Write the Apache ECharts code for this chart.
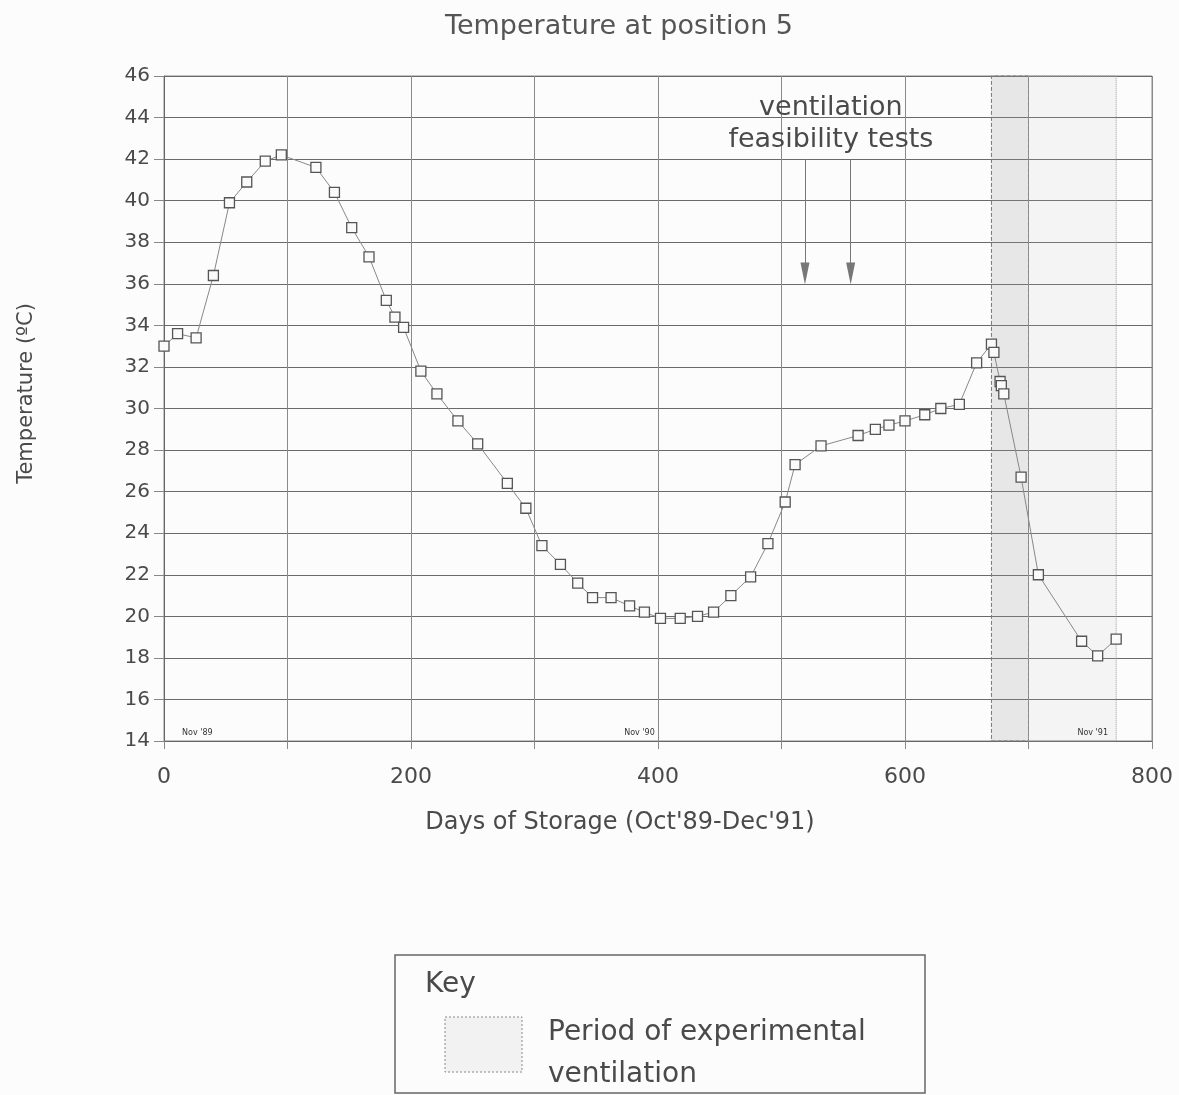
<!DOCTYPE html>
<html>
<head>
<meta charset="utf-8">
<script src="https://cdn.jsdelivr.net/npm/echarts@6/dist/echarts.min.js"></script>
<style>
html,body{margin:0;padding:0;background:#fcfcfc;}
#c{width:1179px;height:1095px;}
</style>
</head>
<body>
<div id="c"></div>
<script>
// ---- data ----
const days = [0, 11, 26, 40, 53, 67, 82, 95, 123, 138, 152, 166, 180, 187, 194, 208, 221, 238, 254, 278, 293, 306, 321, 335, 347, 362, 377, 389, 402, 418, 432, 445, 459, 475, 489, 503, 511, 532, 562, 576, 587, 600, 616, 629, 644, 658, 670, 672, 677, 678, 680, 694, 708, 743, 756, 771];
const temps = [33.0, 33.6, 33.4, 36.4, 39.9, 40.9, 41.9, 42.2, 41.6, 40.4, 38.7, 37.3, 35.2, 34.4, 33.9, 31.8, 30.7, 29.4, 28.3, 26.4, 25.2, 23.4, 22.5, 21.6, 20.9, 20.9, 20.5, 20.2, 19.9, 19.9, 20.0, 20.2, 21.0, 21.9, 23.5, 25.5, 27.3, 28.2, 28.7, 29.0, 29.2, 29.4, 29.7, 30.0, 30.2, 32.2, 33.1, 32.7, 31.3, 31.1, 30.7, 26.7, 22.0, 18.8, 18.1, 18.9];
const ventStart = 670, ventGrid = 700, ventEnd = 771;
const testDays = [519, 556];
const arrowFrom = 42, arrowTo = 36.5;
const testLabel = 'ventilation\nfeasibility tests';
const testLabelPos = [540, 43.7];
const novDays = [27, 385, 752];
const novLabels = ["Nov '89", "Nov '90", "Nov '91"];
const xTicks = [0, 200, 400, 600, 800];
const yMin = 14, yMax = 46, yStep = 2;

const chart = echarts.init(document.getElementById('c'));
const ink = '#4a4a4a';
const gridCol = '#8a8a8a';
const font = 'DejaVu Sans, Liberation Sans, sans-serif';

const lineData = days.map((d, i) => [d, temps[i]]);
const novData = novDays.map((d, i) => [d, 14.4, novLabels[i]]);

chart.setOption({
  backgroundColor: '#fcfcfc',
  animation: false,
  title: {
    text: 'Temperature at position 5',
    left: 614, top: 8, textAlign: 'center',
    textStyle: {color: '#555', fontSize: 27, fontWeight: 'normal', fontFamily: font}
  },
  grid: {left: 164, right: 27, top: 76, bottom: 354, show: true, borderColor: gridCol, borderWidth: 1},
  xAxis: {
    type: 'value', min: 0, max: 800, interval: 100,
    name: "Days of Storage (Oct'89-Dec'91)", nameLocation: 'middle', nameGap: 70,
    nameTextStyle: {color: ink, fontSize: 24, fontFamily: font, padding: [0, 76, 0, 0]},
    axisLine: {show: true, onZero: false, lineStyle: {color: '#666'}},
    axisTick: {show: true, length: 8, lineStyle: {color: '#888'}},
    axisLabel: {color: ink, fontSize: 22, fontFamily: font, margin: 25,
      formatter: v => xTicks.indexOf(v) >= 0 ? String(v) : ''},
    splitLine: {show: true, lineStyle: {color: gridCol, width: 1}}
  },
  yAxis: {
    type: 'value', min: yMin, max: yMax, interval: yStep,
    name: 'Temperature (ºC)', nameLocation: 'middle', nameGap: 127,
    nameTextStyle: {color: ink, fontSize: 21, fontFamily: font, padding: [0, 0, 0, 30]},
    axisLine: {show: true, lineStyle: {color: '#666'}},
    axisTick: {show: true, length: 10, lineStyle: {color: '#888'}},
    axisLabel: {color: ink, fontSize: 20, fontFamily: font, margin: 14},
    splitLine: {show: true, lineStyle: {color: '#6a6a6a', width: 1.2}}
  },
  series: [
    {
      type: 'line',
      data: lineData,
      symbol: 'rect', symbolSize: 10,
      itemStyle: {color: '#fafafa', borderColor: '#555', borderWidth: 1.3},
      lineStyle: {color: '#888', width: 1},
      z: 5,
      markArea: {
        silent: true,
        data: [
          [{xAxis: ventStart, itemStyle: {color: 'rgba(160,160,160,0.22)', borderColor: '#777', borderWidth: 1, borderType: 'dashed'}}, {xAxis: ventGrid}],
          [{xAxis: ventGrid, itemStyle: {color: 'rgba(190,190,190,0.13)', borderColor: '#999', borderWidth: 1, borderType: 'dotted'}}, {xAxis: ventEnd}]
        ]
      },
      markLine: {
        silent: true,
        symbol: ['none', 'triangle'], symbolSize: [9, 22],
        label: {show: false},
        lineStyle: {color: '#777', width: 1, type: 'solid'},
        itemStyle: {color: '#555'},
        data: testDays.map(d => [{coord: [d, arrowFrom]}, {coord: [d, arrowTo]}])
      }
    },
    {
      type: 'scatter',
      data: novData,
      symbolSize: 0,
      silent: true,
      itemStyle: {opacity: 1},
      label: {show: true, position: 'inside', formatter: p => p.data[2], color: '#333', fontSize: 8, fontFamily: font}
    },
    {
      type: 'scatter',
      data: [[testLabelPos[0], testLabelPos[1], testLabel]],
      symbolSize: 0,
      silent: true,
      itemStyle: {opacity: 1},
      label: {show: true, position: 'inside', formatter: p => p.data[2], color: ink,
        fontSize: 27, lineHeight: 32, fontFamily: font, align: 'center', verticalAlign: 'middle'}
    }
  ],
  graphic: [
    {type: 'rect', shape: {x: 395, y: 955, width: 530, height: 138},
      style: {fill: '#fcfcfc', stroke: '#666', lineWidth: 1.5}},
    {type: 'text', left: 425, top: 971,
      style: {text: 'Key', fill: ink, fontSize: 28, fontFamily: font}},
    {type: 'rect', shape: {x: 445, y: 1017, width: 77, height: 55},
      style: {fill: '#f2f2f2', stroke: '#888', lineWidth: 1, lineDash: [2, 2]}},
    {type: 'text', left: 548, top: 1012,
      style: {text: 'Period of experimental\nventilation', fill: ink, fontSize: 28, lineHeight: 42, fontFamily: font}}
  ]
});
</script>
</body>
</html>
